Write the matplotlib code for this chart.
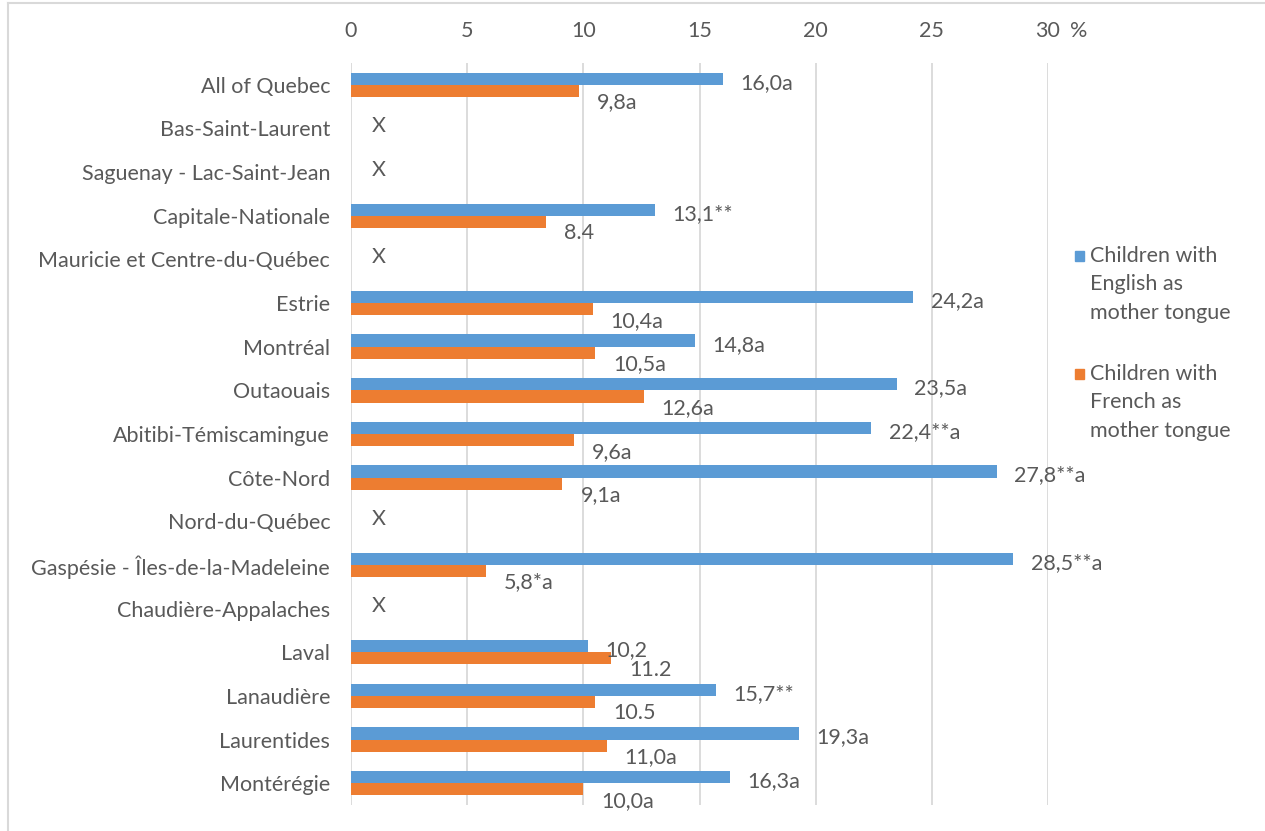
#!/usr/bin/env python3
import numpy as np
import matplotlib
import matplotlib.pyplot as plt
from matplotlib.lines import Line2D
from matplotlib.patches import Rectangle

matplotlib.use('Agg')

regions = [
    "All of Quebec", "Bas-Saint-Laurent", "Saguenay - Lac-Saint-Jean",
    "Capitale-Nationale", "Mauricie et Centre-du-Québec", "Estrie",
    "Montréal", "Outaouais", "Abitibi-Témiscamingue", "Côte-Nord",
    "Nord-du-Québec", "Gaspésie - Îles-de-la-Madeleine",
    "Chaudière-Appalaches", "Laval", "Lanaudière", "Laurentides",
    "Montérégie",
]
english = [16.0, None, None, 13.1, None, 24.2, 14.8, 23.5, 22.4, 27.8,
           None, 28.5, None, 10.2, 15.7, 19.3, 16.3]
french = [9.8, None, None, 8.4, None, 10.4, 10.5, 12.6, 9.6, 9.1,
          None, 5.8, None, 11.2, 10.5, 11.0, 10.0]
english_labels = ["16,0a", "X", "X", "13,1**", "X", "24,2a", "14,8a",
                  "23,5a", "22,4**a", "27,8**a", "X", "28,5**a", "X",
                  "10,2", "15,7**", "19,3a", "16,3a"]
french_labels = ["9,8a", "", "", "8.4", "", "10,4a", "10,5a", "12,6a",
                 "9,6a", "9,1a", "", "5,8*a", "", "11.2", "10.5", "11,0a",
                 "10,0a"]
ticks = [0, 5, 10, 15, 20, 25, 30]
legend_labels = ["Children with\nEnglish as\nmother tongue",
                 "Children with\nFrench as\nmother tongue"]

BLUE = "#5B9BD5"
ORANGE = "#ED7D31"
TEXT = "#595959"
GRID = "#D9D9D9"

plt.rcParams['font.family'] = ['Lato', 'DejaVu Sans']
plt.rcParams['font.size'] = 15.5

fig = plt.figure(figsize=(12.65, 8.31), dpi=100)
ax = fig.add_axes([351 / 1265, 1 - 805 / 831, 697 / 1265, 742 / 831])

y = np.arange(len(regions))
h = 0.28
eng = np.array([np.nan if v is None else v for v in english])
fre = np.array([np.nan if v is None else v for v in french])

ax.barh(y - h / 2, eng, height=h, color=BLUE, zorder=3)
ax.barh(y + h / 2, fre, height=h, color=ORANGE, zorder=3)

for i in range(len(regions)):
    if english[i] is None:
        ax.annotate(english_labels[i], (0, y[i]), xytext=(15, -2.5),
                    textcoords='offset points', va='baseline', ha='left',
                    color=TEXT)
        continue
    ax.annotate(english_labels[i], (english[i], y[i] - h / 2),
                xytext=(12.5, -7.2), textcoords='offset points',
                va='baseline', ha='left', color=TEXT)
    ax.annotate(french_labels[i], (french[i], y[i] + h / 2),
                xytext=(13, -12.6), textcoords='offset points',
                va='baseline', ha='left', color=TEXT)

ax.set_xlim(0, 30)
ax.set_ylim(len(regions) - 0.5, -0.5)
ax.set_xticks(ticks)
ax.set_xticklabels([str(t) for t in ticks])
ax.xaxis.tick_top()
ax.set_yticks(y)
ax.set_yticklabels(regions)
ax.tick_params(axis='both', length=0, colors=TEXT)
ax.tick_params(axis='x', pad=16)
ax.tick_params(axis='y', pad=15)
ax.grid(axis='x', color=GRID, linewidth=1.3, zorder=0)
ax.set_axisbelow(True)
for s in ax.spines.values():
    s.set_visible(False)

ax.annotate("%", (1, 1), xycoords='axes fraction', xytext=(22, 16),
            textcoords='offset points', ha='center', va='bottom',
            color=TEXT)

# legend: square + three text lines per entry
for k, (lab, col) in enumerate(zip(legend_labels, [BLUE, ORANGE])):
    ytop = 256 + k * 118
    fig.patches.append(Rectangle((1075 / 1265, 1 - (ytop + 5) / 831),
                                 9 / 1265, 10 / 831, color=col,
                                 transform=fig.transFigure))
    for j, line in enumerate(lab.split("\n")):
        fig.text(1090 / 1265, 1 - (ytop + 28.5 * j) / 831, line,
                 ha='left', va='center', color=TEXT)

# chart border
fig.lines.append(Line2D([8 / 1265, 1], [1 - 3 / 831, 1 - 3 / 831],
                        color=GRID, linewidth=1.5, transform=fig.transFigure))
fig.lines.append(Line2D([8 / 1265, 8 / 1265], [0, 1 - 3 / 831],
                        color=GRID, linewidth=1.5, transform=fig.transFigure))

fig.savefig("out.png", dpi=100)
